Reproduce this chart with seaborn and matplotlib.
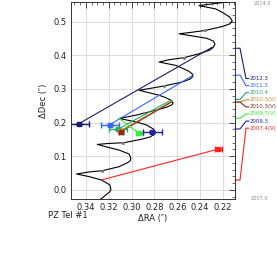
import numpy as np
import pandas as pd
import matplotlib
matplotlib.use("Agg")
import matplotlib.pyplot as plt
from matplotlib.ticker import MultipleLocator
import seaborn as sns

# ---------------- data ----------------
track_ra = [0.338, 0.3269, 0.3225, 0.3192, 0.3181, 0.3190, 0.3264, 0.3371, 0.3482, 0.3371,
            0.3255, 0.3109, 0.3036, 0.3010, 0.3007, 0.3021, 0.3109, 0.3225, 0.3299, 0.3196,
            0.3071, 0.2919, 0.2840, 0.2800, 0.2794, 0.2810, 0.2870, 0.2963, 0.3109, 0.2963,
            0.2788, 0.2690, 0.2645, 0.2637, 0.2655, 0.2700, 0.2759, 0.2934, 0.2847, 0.2716,
            0.2556, 0.2490, 0.2465, 0.2465, 0.2497, 0.2560, 0.2613, 0.2759, 0.2672, 0.2541,
            0.2410, 0.2322, 0.2285, 0.2270, 0.2285, 0.2340, 0.2438, 0.2584, 0.2468, 0.2357,
            0.2206, 0.2140, 0.2119, 0.2140, 0.2200, 0.2264, 0.2410, 0.2293, 0.2191, 0.2080]
track_dec = [-0.034, -0.0275, -0.0148, -0.0060, 0.0021, 0.0148, 0.0296, 0.0394, 0.0473, 0.0533,
             0.0571, 0.0690, 0.0808, 0.0870, 0.0938, 0.1065, 0.1183, 0.1281, 0.1352, 0.1380,
             0.1400, 0.1500, 0.1570, 0.1650, 0.1725, 0.1810, 0.1930, 0.2021, 0.2121, 0.2219,
             0.2367, 0.2460, 0.2530, 0.2590, 0.2660, 0.2740, 0.2811, 0.2959, 0.3009, 0.3086,
             0.3204, 0.3290, 0.3360, 0.3430, 0.3520, 0.3620, 0.3698, 0.3796, 0.3867, 0.3926,
             0.4044, 0.4142, 0.4230, 0.4330, 0.4420, 0.4500, 0.4556, 0.4636, 0.4684, 0.4734,
             0.4852, 0.4930, 0.5020, 0.5130, 0.5260, 0.5375, 0.5473, 0.5524, 0.5570, 0.5640]

year_dot_ra = [0.3255, 0.3071, 0.2890, 0.2716, 0.2541, 0.2357]
year_dot_dec = [0.0571, 0.1400, 0.2280, 0.3086, 0.3926, 0.4734]

epoch_labels = ["2012.3", "2011.3", "2010.4", "2010.3(V)", "2010.3(V)", "2009.7(V)", "2009.3", "2007.4(V)"]
epoch_time = [2012.3, 2011.3, 2010.4, 2010.3, 2010.3, 2009.7, 2009.3, 2007.4]
meas_ra = [0.3459, 0.3190, 0.3118, 0.3099, 0.3091, 0.2934, 0.2818, 0.2241]
meas_dec = [0.1970, 0.1940, 0.1805, 0.1754, 0.1731, 0.1678, 0.1725, 0.1213]
meas_ra_err = [0.0085, 0.0080, 0.0080, 0.0020, 0.0020, 0.0030, 0.0080, 0.0030]
meas_dec_err = [0.0030, 0.0030, 0.0030, 0.0030, 0.0030, 0.0030, 0.0030, 0.0030]
pred_ra = [0.2293, 0.2462, 0.2657, 0.2646, 0.2646, 0.3109, 0.2800, 0.3264]
pred_dec = [0.4240, 0.3402, 0.2663, 0.2633, 0.2620, 0.2121, 0.1700, 0.0296]
epoch_colors = ["#1c1c6e", "#3366ff", "#22aa66", "#cc8a2a", "#8b2a1a", "#33ee33", "#2222aa", "#ff2222"]

x_ticks = [0.34, 0.32, 0.30, 0.28, 0.26, 0.24, 0.22]
y_ticks = [0.0, 0.1, 0.2, 0.3, 0.4, 0.5]

# ---------------- figure ----------------
sns.set_theme(style="white")
plt.rcParams["font.family"] = ["DejaVu Sans"]

fig = plt.figure(figsize=(2.77, 2.62), dpi=100)
ax = fig.add_axes([71 / 277, 63 / 262, 164 / 277, 197 / 262])

ax.set_xlim(0.353, 0.2095)
ax.set_ylim(-0.027, 0.558)

ax.grid(True, color="#dddddd", lw=0.8, zorder=0)
ax.set_axisbelow(True)

track = pd.DataFrame({"ra": track_ra, "dec": track_dec})
sns.lineplot(data=track, x="ra", y="dec", sort=False, estimator=None, color="black",
             lw=0.8, ax=ax, zorder=3)
dots = pd.DataFrame({"ra": year_dot_ra, "dec": year_dot_dec})
sns.scatterplot(data=dots, x="ra", y="dec", color="#808080", s=5, linewidth=0, ax=ax, zorder=4)

for i in range(len(epoch_labels)):
    c = epoch_colors[i]
    seg = pd.DataFrame({"ra": [meas_ra[i], pred_ra[i]], "dec": [meas_dec[i], pred_dec[i]]})
    sns.lineplot(data=seg, x="ra", y="dec", sort=False, estimator=None, color=c, lw=0.8,
                 ax=ax, zorder=5)
    ax.errorbar(meas_ra[i], meas_dec[i], xerr=meas_ra_err[i], yerr=meas_dec_err[i],
                fmt="s", color=c, ms=3.2, mec=c, elinewidth=1.0, capsize=2, capthick=1.0,
                zorder=6)

ax.set_xticks(x_ticks)
ax.set_yticks(y_ticks)
ax.set_xticklabels([f"{v:.2f}" for v in x_ticks])
ax.set_yticklabels([f"{v:.1f}" for v in y_ticks])
ax.xaxis.set_minor_locator(MultipleLocator(0.005))
ax.yaxis.set_minor_locator(MultipleLocator(0.02))
ax.tick_params(which="both", direction="in", top=True, right=True, color="#333333",
               labelsize=6, labelcolor="#222222")
ax.tick_params(which="major", length=4, width=0.6)
ax.tick_params(which="minor", length=2, width=0.5)
ax.tick_params(axis="x", pad=3)
ax.tick_params(axis="y", pad=3)
for s in ax.spines.values():
    s.set_color("#333333")
    s.set_linewidth(0.7)

ax.set_xlabel("ΔRA (″)", fontsize=6, color="#222222", labelpad=1)
ax.set_ylabel("ΔDec (″)", fontsize=6, color="#222222", labelpad=4)
ax.text(-0.14, -0.086, "PZ Tel #1", transform=ax.transAxes, fontsize=6, color="#222222",
        ha="left", va="center")

# time axis on the right
t_lo, t_hi = 2006.695, 2014.02
def tfrac(t):
    return (t - t_lo) / (t_hi - t_lo)

top_slot = (199 - 78.5) / 197
slot_step = 7.1 / 197
for i, lab in enumerate(epoch_labels):
    c = epoch_colors[i]
    y0 = tfrac(epoch_time[i])
    y1 = top_slot - i * slot_step
    ax.plot([1.0, 1.0305, 1.067, 1.085], [y0, y0, y1, y1], transform=ax.transAxes,
            color=c, lw=0.8, clip_on=False)
    ax.text(1.09, y1, lab, transform=ax.transAxes, fontsize=3.9, color=c,
            ha="left", va="center")

ax.text(1.165, 0.99, "2014.0", transform=ax.transAxes, fontsize=3.6, color="#888888",
        ha="center", va="center")
ax.text(1.148, 0.0, "2007.0", transform=ax.transAxes, fontsize=3.6, color="#888888",
        ha="center", va="center")

fig.savefig("out.png", dpi=100)
